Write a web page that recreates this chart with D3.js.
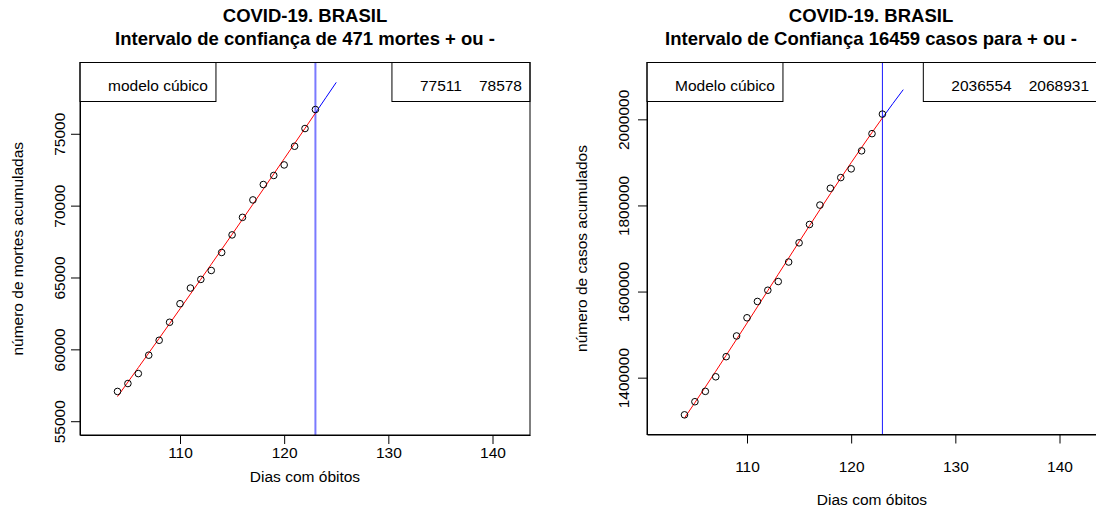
<!DOCTYPE html>
<html>
<head>
<meta charset="utf-8">
<script src="https://cdn.jsdelivr.net/npm/d3@7"></script>
<style>
  html, body { margin: 0; padding: 0; background: #fff; }
  svg { display: block; font-family: "Liberation Sans", Arial, Helvetica, sans-serif; }
</style>
</head>
<body>
<svg id="chart" width="1096" height="513"></svg>
<script>
// Dias desde o primeiro óbito
const dias = [104, 105, 106, 107, 108, 109, 110, 111, 112, 113,
              114, 115, 116, 117, 118, 119, 120, 121, 122, 123];

// Óbitos acumulados
const mortes = [57070, 57622, 58314, 59594, 60632, 61884, 63174, 64265, 64867, 65487,
                66741, 67964, 69184, 70398, 71469, 72100, 72833, 74133, 75366, 76688];

// Casos acumulados
const casos = [1313667, 1344143, 1368195, 1402041, 1448753, 1496858, 1539081, 1577004, 1603055, 1623284,
               1668589, 1713160, 1755779, 1800827, 1839850, 1864681, 1884967, 1926824, 1966748, 2012151];

// Previsões do modelo cúbico para os dois dias seguintes
const diasPrevisao = [124, 125];
const previsaoMortes = [77511, 78578];
const previsaoCasos = [2036554, 2068931];

// Eixos
const xTicks = [110, 120, 130, 140];
const xLim = [102, 142];
const yTicksMortes = [55000, 60000, 65000, 70000, 75000];
const yLimMortes = [55000, 79000];
const yTicksCasos = [1400000, 1600000, 1800000, 2000000];
const yLimCasos = [1300000, 2100000];

// Textos
const titulos = [
  ["COVID-19. BRASIL", "Intervalo de confiança de 471 mortes + ou -"],
  ["COVID-19. BRASIL", "Intervalo de Confiança 16459 casos para + ou -"]
];
const rotulosY = ["número de mortes acumuladas", "número de casos acumulados"];
const rotuloX = "Dias com óbitos";
const legendasModelo = ["modelo cúbico", "Modelo cúbico"];

// Ajuste polinomial de grau 3 por mínimos quadrados
function ajusteCubico(xs, ys) {
  const m = d3.mean(xs);
  const A = [[0,0,0,0],[0,0,0,0],[0,0,0,0],[0,0,0,0]];
  const b = [0,0,0,0];
  xs.forEach((x, i) => {
    const t = x - m;
    const p = [1, t, t * t, t * t * t];
    for (let r = 0; r < 4; r++) {
      b[r] += p[r] * ys[i];
      for (let c = 0; c < 4; c++) A[r][c] += p[r] * p[c];
    }
  });
  // eliminação gaussiana
  for (let k = 0; k < 4; k++) {
    let piv = k;
    for (let r = k + 1; r < 4; r++) if (Math.abs(A[r][k]) > Math.abs(A[piv][k])) piv = r;
    [A[k], A[piv]] = [A[piv], A[k]];
    [b[k], b[piv]] = [b[piv], b[k]];
    for (let r = k + 1; r < 4; r++) {
      const f = A[r][k] / A[k][k];
      for (let c = k; c < 4; c++) A[r][c] -= f * A[k][c];
      b[r] -= f * b[k];
    }
  }
  const coef = [0,0,0,0];
  for (let k = 3; k >= 0; k--) {
    let s = b[k];
    for (let c = k + 1; c < 4; c++) s -= A[k][c] * coef[c];
    coef[k] = s / A[k][k];
  }
  return x => { const t = x - m; return coef[0] + coef[1]*t + coef[2]*t*t + coef[3]*t*t*t; };
}

// Extensão de 4% nos limites dos eixos
function estende(lim) {
  const d = (lim[1] - lim[0]) * 0.04;
  return [lim[0] - d, lim[1] + d];
}

const svg = d3.select("#chart");

const paineis = [
  {
    area: { left: 80, right: 530, top: 62.5, bottom: 435 },
    serie: mortes, yTicks: yTicksMortes, yLim: yLimMortes, previsao: previsaoMortes,
    titulo: titulos[0], rotuloY: rotulosY[0], legenda: legendasModelo[0],
    xTickBase: 457.5, xTituloBase: 482, yTickBase: 15, yTituloBase: 57,
    vCor: "#7a7aff", vLargura: 2, titleCx: 305
  },
  {
    area: { left: 647, right: 1097, top: 62.5, bottom: 434.5 },
    serie: casos, yTicks: yTicksCasos, yLim: yLimCasos, previsao: previsaoCasos,
    titulo: titulos[1], rotuloY: rotulosY[1], legenda: legendasModelo[1],
    xTickBase: 471.5, xTituloBase: 505, yTickBase: 18, yTituloBase: 60,
    vCor: "#1a1aff", vLargura: 1, titleCx: 871
  }
];

const fonte = 15.5;

paineis.forEach(p => {
  const a = p.area;
  const x = d3.scaleLinear().domain(estende(xLim)).range([a.left, a.right]);
  const y = d3.scaleLinear().domain(estende(p.yLim)).range([a.bottom, a.top]);
  const g = svg.append("g");

  // Título
  const tt = g.append("text")
    .attr("text-anchor", "middle")
    .attr("font-weight", "bold")
    .attr("font-size", 18.5)
    .attr("fill", "#000");
  tt.append("tspan").attr("x", p.titleCx).attr("y", 22).text(p.titulo[0]);
  tt.append("tspan").attr("x", p.titleCx).attr("y", 44.5).text(p.titulo[1]);

  // Eixo X
  const ax = g.append("g")
    .attr("transform", `translate(0,${a.bottom})`)
    .call(d3.axisBottom(x).tickValues(xTicks).tickSize(9).tickSizeOuter(0).tickFormat(d3.format("d")));
  ax.select(".domain").attr("stroke", "#000");
  ax.selectAll(".tick line").attr("stroke", "#000");
  ax.selectAll(".tick text")
    .attr("font-size", fonte).attr("fill", "#000")
    .attr("dy", null).attr("y", p.xTickBase - a.bottom);
  ax.attr("font-family", null).attr("font-size", null);

  // Eixo Y
  const ay = g.append("g")
    .attr("transform", `translate(${a.left},0)`)
    .call(d3.axisLeft(y).tickValues(p.yTicks).tickSize(9).tickSizeOuter(0).tickFormat(d3.format("d")));
  ay.select(".domain").attr("stroke", "#000");
  ay.selectAll(".tick line").attr("stroke", "#000");
  ay.selectAll(".tick text")
    .attr("font-size", fonte).attr("fill", "#000")
    .attr("dy", null).attr("x", 0).attr("y", -p.yTickBase)
    .attr("text-anchor", "middle")
    .attr("transform", "rotate(-90)");
  ay.attr("font-family", null).attr("font-size", null);

  // Rótulos dos eixos
  g.append("text")
    .attr("x", (a.left + a.right) / 2).attr("y", p.xTituloBase)
    .attr("text-anchor", "middle").attr("font-size", fonte)
    .text(rotuloX);
  g.append("text")
    .attr("transform", `translate(${a.left - p.yTituloBase},${(a.top + a.bottom) / 2}) rotate(-90)`)
    .attr("text-anchor", "middle").attr("font-size", fonte)
    .text(p.rotuloY);

  // Área de desenho recortada
  const clip = "clip" + a.left;
  g.append("clipPath").attr("id", clip)
    .append("rect").attr("x", a.left).attr("y", a.top)
    .attr("width", a.right - a.left).attr("height", a.bottom - a.top);
  const plot = g.append("g").attr("clip-path", `url(#${clip})`);

  // Linha vertical no último dia observado
  const ultimo = dias[dias.length - 1];
  plot.append("line")
    .attr("x1", x(ultimo)).attr("x2", x(ultimo))
    .attr("y1", a.top).attr("y2", a.bottom)
    .attr("stroke", p.vCor).attr("stroke-width", p.vLargura);

  // Modelo cúbico ajustado
  const f = ajusteCubico(dias, p.serie);
  const linha = d3.line().x(d => x(d[0])).y(d => y(d[1]));
  plot.append("path")
    .datum(dias.map(d => [d, f(d)]))
    .attr("d", linha).attr("fill", "none").attr("stroke", "#ff0000").attr("stroke-width", 1);

  // Projeção
  const proj = [[ultimo, f(ultimo)]].concat(diasPrevisao.map((d, i) => [d, p.previsao[i]]));
  plot.append("path")
    .datum(proj)
    .attr("d", linha).attr("fill", "none").attr("stroke", "#0000ff").attr("stroke-width", 1);

  // Observações
  plot.selectAll("circle.obs")
    .data(dias.map((d, i) => [d, p.serie[i]]))
    .join("circle")
    .attr("class", "obs")
    .attr("cx", d => x(d[0])).attr("cy", d => y(d[1]))
    .attr("r", 3.3).attr("fill", "none").attr("stroke", "#000").attr("stroke-width", 1);

  // Legenda do modelo (canto superior esquerdo)
  const padE = 28, padD = 8, altura = 39, base = 28;
  const lg = g.append("g");
  const lbox = lg.append("rect");
  const ltxt = lg.append("text").attr("font-size", fonte).text(p.legenda);
  const lw = ltxt.node().getComputedTextLength();
  lbox.attr("x", a.left).attr("y", a.top)
    .attr("width", padE + lw + padD).attr("height", altura)
    .attr("fill", "#fff").attr("stroke", "#000").attr("stroke-width", 1);
  ltxt.attr("x", a.left + padE).attr("y", a.top + base);

  // Legenda com as previsões (canto superior direito)
  const rg = g.append("g");
  const rbox = rg.append("rect");
  const rtx = p.previsao.map(v => rg.append("text").attr("font-size", fonte).text(String(v)));
  const larguras = rtx.map(t => t.node().getComputedTextLength());
  const espaco = 17;
  const total = padE + d3.sum(larguras) + espaco * (larguras.length - 1) + padD;
  const bx = a.right - total;
  rbox.attr("x", bx).attr("y", a.top)
    .attr("width", total).attr("height", altura)
    .attr("fill", "#fff").attr("stroke", "#000").attr("stroke-width", 1);
  let cx = bx + padE;
  rtx.forEach((t, i) => { t.attr("x", cx).attr("y", a.top + base); cx += larguras[i] + espaco; });

  // Moldura
  g.append("rect")
    .attr("x", a.left).attr("y", a.top)
    .attr("width", a.right - a.left).attr("height", a.bottom - a.top)
    .attr("fill", "none").attr("stroke", "#000").attr("stroke-width", 1);
});
</script>
</body>
</html>
